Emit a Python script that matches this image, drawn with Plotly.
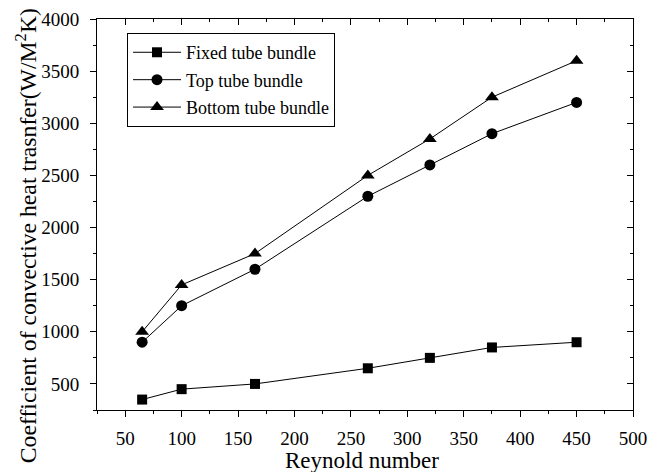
import plotly.graph_objects as go

reynolds = [65, 100, 165, 265, 320, 375, 450]
fixed_bundle = [350, 450, 500, 650, 750, 850, 900]
top_bundle = [900, 1250, 1600, 2300, 2600, 2900, 3200]
bottom_bundle = [1000, 1450, 1750, 2500, 2850, 3250, 3600]
series_names = ["Fixed tube bundle", "Top tube bundle", "Bottom tube bundle"]
x_ticks = [50, 100, 150, 200, 250, 300, 350, 400, 450, 500]
y_ticks = [500, 1000, 1500, 2000, 2500, 3000, 3500, 4000]
x_title = "Reynold number"
y_title = "Coefficient of convective heat trasnfer(W/M<sup>2</sup>K)"

FONT = "Liberation Serif"

fig = go.Figure()
for i, (name, vals, sym, sz) in enumerate([
    (series_names[0], fixed_bundle, "square", 10),
    (series_names[1], top_bundle, "circle", 11),
    (series_names[2], bottom_bundle, "triangle-up", 12),
]):
    fig.add_trace(go.Scatter(
        x=reynolds, y=vals, name=name, mode="lines+markers",
        legendgroup=f"g{i}",
        line=dict(color="black", width=1),
        marker=dict(symbol=sym, size=sz, color="black"),
    ))

# dummy for mirrored axes with inside ticks
fig.add_trace(go.Scatter(x=[], y=[], xaxis="x2", yaxis="y2", showlegend=False, hoverinfo="skip"))

axis_common = dict(showgrid=False, zeroline=False, linecolor="black", linewidth=1,
                   automargin=False,
                   tickfont=dict(family=FONT, size=19, color="black"))

fig.update_layout(
    width=649, height=472,
    paper_bgcolor="white", plot_bgcolor="white",
    margin=dict(l=97, r=16, t=19, b=62),
    font=dict(family=FONT, color="black"),
    xaxis=dict(range=[25, 500], tickvals=x_ticks, ticks="outside", ticklen=6, tickwidth=1,
               tickcolor="black", ticklabelstandoff=5,
               minor=dict(ticks="outside", dtick=25, tick0=25, ticklen=3, tickcolor="black"),
               **axis_common),
    yaxis=dict(range=[250, 4000], tickvals=y_ticks, ticks="outside", ticklen=6, tickwidth=1,
               tickcolor="black", ticklabelstandoff=7,
               minor=dict(ticks="outside", dtick=250, tick0=250, ticklen=3, tickcolor="black"),
               **axis_common),
    xaxis2=dict(range=[25, 500], overlaying="x", side="top", tickvals=x_ticks, ticks="inside",
                ticklen=6, tickcolor="black", showticklabels=False,
                minor=dict(ticks="inside", dtick=25, tick0=25, ticklen=3, tickcolor="black"),
                **axis_common),
    yaxis2=dict(range=[250, 4000], overlaying="y", side="right", anchor="x2", tickvals=y_ticks,
                ticks="inside", ticklen=6, tickcolor="black", showticklabels=False,
                minor=dict(ticks="inside", dtick=250, tick0=250, ticklen=3, tickcolor="black"),
                **axis_common),
    legend=dict(x=0.056, y=0.964, xanchor="left", yanchor="top",
                bordercolor="black", borderwidth=1, bgcolor="white",
                font=dict(family=FONT, size=18, color="black"),
                tracegroupgap=1, itemwidth=48),
    showlegend=True,
    annotations=[
        dict(text=x_title, xref="paper", yref="paper", x=0.494, y=-0.128,
             xanchor="center", yanchor="middle", showarrow=False,
             font=dict(family=FONT, size=23, color="black")),
        dict(text=y_title, xref="paper", yref="paper", x=-0.1325, y=0.447,
             xanchor="center", yanchor="middle", showarrow=False, textangle=-90,
             font=dict(family=FONT, size=23.7, color="black")),
    ],
)

fig.write_html("out.html", config={"displayModeBar": False},
               post_script="document.body.style.margin='0';")
